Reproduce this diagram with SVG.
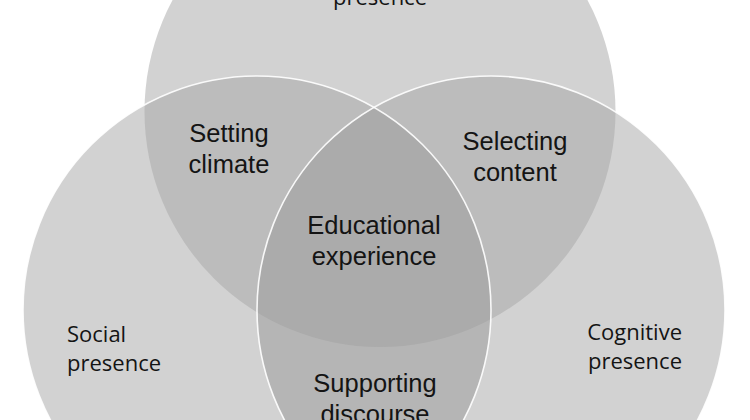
<svg xmlns="http://www.w3.org/2000/svg" width="750" height="420" viewBox="0 0 750 420">
  <style>
    .base { fill: #d2d2d2; }
    .pair { fill: #bcbcbc; }
    .pairlr { fill: #b5b5b5; }
    .triple { fill: #ababab; }
    .edge { fill: none; stroke: #ffffff; stroke-width: 1.6; stroke-opacity: 0.9; }
    .lbl { font-family: "Liberation Sans", Arial, sans-serif; font-size: 25.5px; fill: #141414; text-anchor: middle; }
    .pres { font-family: "Open Sans", "Liberation Sans", sans-serif; font-size: 22px; fill: #141414; }
  </style>
  <defs>
    <circle id="cT" cx="380" cy="111.5" r="235.5"/>
    <circle id="cL" cx="257" cy="310" r="234"/>
    <circle id="cR" cx="491" cy="310" r="234"/>
    <clipPath id="clipT"><use href="#cT"/></clipPath>
    <clipPath id="clipL"><use href="#cL"/></clipPath>
    <clipPath id="clipR"><use href="#cR"/></clipPath>
  </defs>
  <rect width="750" height="420" fill="#ffffff"/>

  <g id="teaching-presence">
    <use href="#cT" class="base"/>
  </g>
  <g id="social-presence">
    <use href="#cL" class="base"/>
  </g>
  <g id="cognitive-presence">
    <use href="#cR" class="base"/>
  </g>

  <g id="setting-climate-region">
    <use href="#cL" class="pair" clip-path="url(#clipT)"/>
  </g>
  <g id="selecting-content-region">
    <use href="#cR" class="pair" clip-path="url(#clipT)"/>
  </g>
  <g id="supporting-discourse-region">
    <use href="#cR" class="pairlr" clip-path="url(#clipL)"/>
  </g>
  <g id="educational-experience-region" clip-path="url(#clipT)">
    <use href="#cR" class="triple" clip-path="url(#clipL)"/>
  </g>

  <g id="edges">
    <use href="#cL" class="edge"/>
    <use href="#cR" class="edge"/>
  </g>

  <g id="labels">
    <text class="pres" x="380" y="5" text-anchor="middle">presence</text>
    <text class="lbl" x="229" y="142">Setting</text>
    <text class="lbl" x="229" y="173">climate</text>
    <text class="lbl" x="515" y="150">Selecting</text>
    <text class="lbl" x="515" y="181">content</text>
    <text class="lbl" x="374" y="234">Educational</text>
    <text class="lbl" x="374" y="265">experience</text>
    <text class="pres" x="67" y="342">Social</text>
    <text class="pres" x="67" y="371">presence</text>
    <text class="pres" x="682" y="340" text-anchor="end">Cognitive</text>
    <text class="pres" x="682" y="369" text-anchor="end">presence</text>
    <text class="lbl" x="375" y="392">Supporting</text>
    <text class="lbl" x="375" y="423">discourse</text>
  </g>
</svg>
